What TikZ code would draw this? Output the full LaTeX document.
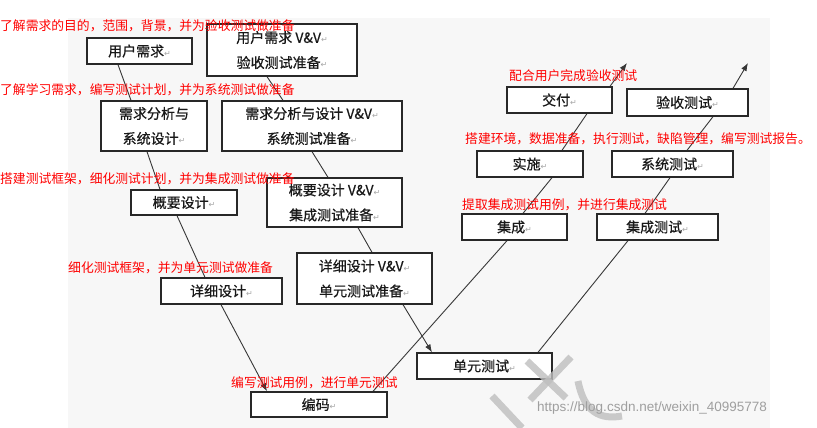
\documentclass[tikz,border=0pt]{standalone}
\usepackage{fontspec}
\newfontfamily\cjk{Noto Sans CJK SC}
\newfontfamily\cjkbox[FakeBold=0.6]{Noto Sans CJK SC}
\newfontfamily\symfont{DejaVu Sans}
\newfontfamily\wmfont{Liberation Sans}
\usetikzlibrary{arrows.meta}

\pgfdeclarelayer{back}
\pgfdeclarelayer{lines}
\pgfsetlayers{back,lines,main}

\definecolor{bggray}{RGB}{247,247,247}
\definecolor{boxline}{RGB}{40,40,40}
\definecolor{linegray}{RGB}{55,55,55}
\definecolor{notered}{RGB}{255,0,0}
\definecolor{wmgray}{RGB}{190,190,190}

% 回车符
\newcommand{\retmark}{{\symfont\fontsize{8}{8}\selectfont\color{gray!70}↵}}

\begin{document}
\begin{tikzpicture}[x=1pt, y=-1pt,
  box/.style 2 args={draw=boxline, fill=white, line width=1.3pt, inner sep=0pt,
    minimum width=#1, minimum height=#2, align=center,
    font=\cjkbox\fontsize{14}{25}\selectfont, text=black!90},
  rednote/.style={anchor=west, inner sep=0pt, text=notered,
    font=\cjk\fontsize{12.8}{14}\selectfont},
  vline/.style={draw=linegray, line width=0.9pt, line join=round},
  vtip/.style={-{Latex[length=8pt,width=6pt]}},
  wmstroke/.style={draw=wmgray, line width=7pt, opacity=0.8},
]

\useasboundingbox (0,0) rectangle (817,428);

% 底色
\begin{pgfonlayer}{back}
  \fill[white] (0,0) rectangle (817,428);
  \fill[bggray] (68,18) rectangle (770,428);
\end{pgfonlayer}

% 左侧：开发阶段
\node[box={105}{26}] (req) at (139.5,51) {用户需求\retmark};
\node[box={106}{50}] (sysdes) at (154,126) {需求分析与\\系统设计\retmark};
\node[box={106}{25}] (outline) at (184,202.5) {概要设计\retmark};
\node[box={121}{26}] (detail) at (221.5,291) {详细设计\retmark};
\node[box={136}{25}] (code) at (319,404.5) {编码\retmark};

% 中间：V&V 测试准备
\node[box={150}{52}] (reqvv) at (282,50) {用户需求 V\&V\retmark\\验收测试准备\retmark};
\node[box={180}{50}] (sysvv) at (312,126) {需求分析与设计 V\&V\retmark\\系统测试准备\retmark};
\node[box={135}{49}] (outvv) at (334.5,202.5) {概要设计 V\&V\retmark\\集成测试准备\retmark};
\node[box={135}{51}] (detvv) at (364.5,278.5) {详细设计 V\&V\retmark\\单元测试准备\retmark};
\node[box={135}{26}] (unit) at (484.5,366) {单元测试\retmark};

% 右侧：测试执行
\node[box={105}{26}] (integ) at (514.5,227) {集成\retmark};
\node[box={106}{26}] (impl) at (530,164) {实施\retmark};
\node[box={105}{26}] (deliver) at (559.5,100) {交付\retmark};
\node[box={121}{26}] (inttest) at (657.5,227) {集成测试\retmark};
\node[box={121}{26}] (systest) at (672.5,164) {系统测试\retmark};
\node[box={121}{27}] (acctest) at (687.5,102.5) {验收测试\retmark};

% 箭头末端
\coordinate (deltip) at (627,63);
\coordinate (acctip) at (748,63);

% 连线（放在方框下面）
\begin{pgfonlayer}{lines}
  \draw[vline, vtip] ([xshift=-21.5]req.south) -- ([xshift=-23]sysdes.north)
    -- ([xshift=-7]sysdes.south) -- ([xshift=-24]outline.north)
    -- ([xshift=-7]outline.south) -- ([xshift=-16.5]detail.north)
    -- ([xshift=-0.5]detail.south) -- ([xshift=-52]code.north);
  \draw[vline, vtip] ([xshift=-15]reqvv.south) -- ([xshift=-29]sysvv.north)
    -- (sysvv.south) -- ([xshift=-6.5]outvv.north)
    -- ([xshift=23.5]outvv.south) -- ([xshift=7.5]detvv.north)
    -- ([xshift=38.5]detvv.south) -- ([xshift=-52.5]unit.north);
  \draw[vline, vtip] ([xshift=54]code.north) -- ([xshift=-7.5]integ.south)
    -- ([xshift=8.5]integ.north) -- ([xshift=22]impl.south)
    -- ([xshift=32]impl.north) -- ([xshift=27.5]deliver.south)
    -- ([xshift=50.5]deliver.north) -- (deltip);
  \draw[vline, vtip] ([xshift=53.5]unit.north) -- ([xshift=-29.5]inttest.south)
    -- ([xshift=-12.5]inttest.north) -- ([xshift=-2.5]systest.south)
    -- ([xshift=14.5]systest.north) -- ([xshift=25.5]acctest.south)
    -- ([xshift=45.5]acctest.north) -- (acctip);
\end{pgfonlayer}

% 红色说明文字
\node[rednote] (n1) at (0,26) {了解需求的目的，范围，背景，并为验收测试做准备};
\node[rednote] (n2) at (0,90) {了解学习需求，编写测试计划，并为系统测试做准备};
\node[rednote] (n3) at (0,179) {搭建测试框架，细化测试计划，并为集成测试做准备};
\node[rednote] (n4) at (68,268) {细化测试框架，并为单元测试做准备};
\node[rednote] (n5) at (231,383) {编写测试用例，进行单元测试};
\node[rednote] (n6) at (509,76) {配合用户完成验收测试};
\node[rednote] (n7) at (465,139) {搭建环境，数据准备，执行测试，缺陷管理，编写测试报告。};
\node[rednote] (n8) at (462,205) {提取集成测试用例，并进行集成测试};

% 水印
\draw[wmstroke] (527,361) -- (566,398);
\draw[wmstroke] (571,357) -- (530,400);
\draw[wmstroke] (492,396) -- (522,428);
\draw[wmstroke] (578,381) .. controls (584,412) and (600,420) .. (622,416);
\node[anchor=west, inner sep=0pt, text=gray!75, font=\wmfont\fontsize{13.5}{14}\selectfont]
  (wm) at (537,408) {https://blog.csdn.net/weixin\_40995778};

\end{tikzpicture}
\end{document}
